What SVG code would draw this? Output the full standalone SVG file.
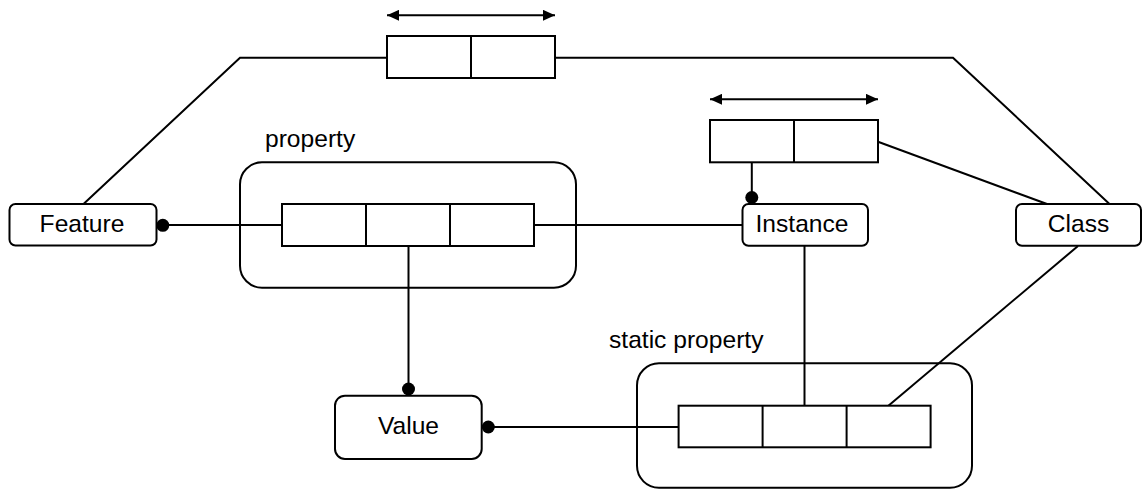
<svg xmlns="http://www.w3.org/2000/svg" width="1143" height="489" viewBox="0 0 1143 489">
<style>
.ln{fill:none;stroke:#000;stroke-width:2}
.bx{fill:#fff;stroke:#000;stroke-width:2}
.ct{fill:none;stroke:#000;stroke-width:2}
.dot{fill:#000}
.t{font-family:"Liberation Sans",Arial,sans-serif;font-size:24.6px;fill:#000}
.m{text-anchor:middle}
</style>
<defs>
<marker id="ah" viewBox="0 0 12 11" refX="12" refY="5.5" markerWidth="12" markerHeight="11" markerUnits="userSpaceOnUse" orient="auto-start-reverse">
<path d="M0,0 L12,5.5 L0,11 Z" fill="#000"/>
</marker>
</defs>
<rect width="1143" height="489" fill="#fff"/>
<g id="connectors">
<polyline class="ln" points="83.5,204 240,57.7 387,57.7"/>
<polyline class="ln" points="555,57.7 953,57.7 1109.5,204"/>
<line class="ln" x1="162.5" y1="225" x2="282" y2="225"/>
<line class="ln" x1="534" y1="225" x2="742.5" y2="225"/>
<line class="ln" x1="751.8" y1="197.5" x2="751.8" y2="162.3"/>
<line class="ln" x1="878" y1="141.7" x2="1047" y2="204"/>
<line class="ln" x1="408.5" y1="246" x2="408.5" y2="389"/>
<line class="ln" x1="488.5" y1="427" x2="678.6" y2="427"/>
<line class="ln" x1="804.5" y1="246" x2="804.5" y2="405.7"/>
<line class="ln" x1="1078" y1="246" x2="888.4" y2="405.7"/>
<circle class="dot" cx="162.8" cy="225.3" r="6.5"/>
<circle class="dot" cx="751.8" cy="197.5" r="6.5"/>
<circle class="dot" cx="408.5" cy="389" r="6.5"/>
<circle class="dot" cx="488.3" cy="427" r="6.5"/>
<line class="ln" x1="387" y1="15.3" x2="555" y2="15.3" marker-start="url(#ah)" marker-end="url(#ah)"/>
<line class="ln" x1="710" y1="99.3" x2="878" y2="99.3" marker-start="url(#ah)" marker-end="url(#ah)"/>
</g>
<g id="top-tuple">
<rect class="bx" x="387" y="36" width="168" height="42"/>
<line class="ln" x1="471" y1="36" x2="471" y2="78"/>
</g>
<g id="instance-tuple">
<rect class="bx" x="710" y="120" width="168" height="42.3"/>
<line class="ln" x1="794" y1="120" x2="794" y2="162.3"/>
</g>
<g id="property">
<rect class="ct" x="240" y="162.3" width="336" height="125.4" rx="22"/>
<text class="t" x="265" y="146.5">property</text>
<rect class="bx" x="282" y="204" width="252" height="42"/>
<line class="ln" x1="366" y1="204" x2="366" y2="246"/>
<line class="ln" x1="450" y1="204" x2="450" y2="246"/>
</g>
<g id="static-property">
<rect class="ct" x="637" y="363.3" width="335" height="124.5" rx="22"/>
<text class="t" x="609" y="348">static property</text>
<rect class="bx" x="678.6" y="405.7" width="252" height="41.6"/>
<line class="ln" x1="762.6" y1="405.7" x2="762.6" y2="447.3"/>
<line class="ln" x1="846.6" y1="405.7" x2="846.6" y2="447.3"/>
</g>
<g id="feature">
<rect class="bx" x="9.5" y="204" width="147" height="41.5" rx="6"/>
<text class="t m" x="82" y="232.3">Feature</text>
</g>
<g id="instance">
<rect class="bx" x="742.5" y="204" width="125.5" height="41.7" rx="6"/>
<text class="t m" x="802" y="232.3">Instance</text>
</g>
<g id="class">
<rect class="bx" x="1016" y="204" width="125" height="41.7" rx="6"/>
<text class="t m" x="1078.5" y="232.3">Class</text>
</g>
<g id="value">
<rect class="bx" x="335" y="395.7" width="146.7" height="63.3" rx="10"/>
<text class="t m" x="408.5" y="433.5">Value</text>
</g>
</svg>
